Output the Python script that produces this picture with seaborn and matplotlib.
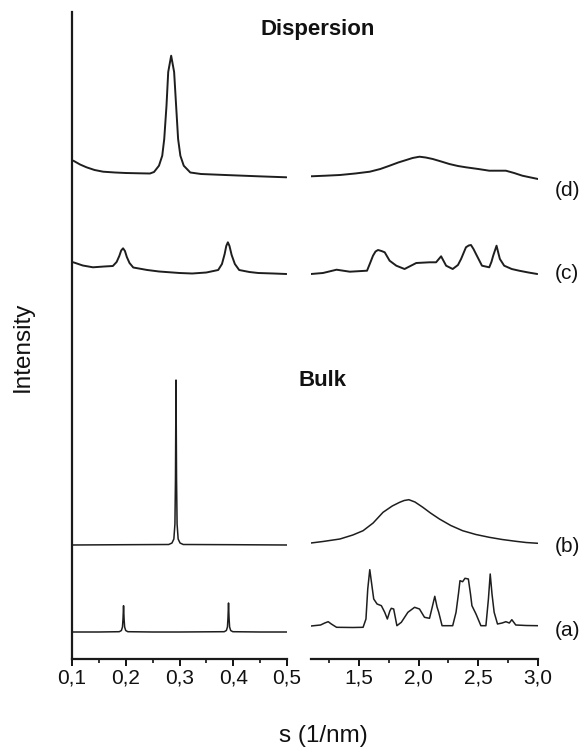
import matplotlib
matplotlib.use("Agg")
import matplotlib.pyplot as plt
import seaborn as sns
import pandas as pd
from matplotlib.ticker import FixedLocator, FixedFormatter

# ---------------- data (arbitrary intensity units) ----------------
# left panel, s = 0.1 .. 0.5
a_left_s = [0.100, 0.150, 0.1879, 0.1919, 0.1939, 0.1949, 0.1959, 0.1969, 0.1979, 0.1999, 0.2039,
            0.250, 0.300, 0.3832, 0.3872, 0.3892, 0.3902, 0.3912, 0.3922, 0.3932, 0.3952, 0.3992,
            0.450, 0.500]
a_left_i = [27, 27, 27.3, 28.5, 32, 40, 53.3, 40, 32, 28.5, 27.3,
            27, 27, 27.3, 28.5, 32, 41, 56, 41, 32, 28.5, 27.3,
            27, 27]

b_left_s = [0.100, 0.200, 0.280, 0.286, 0.2895, 0.2915, 0.2925, 0.2935, 0.2945, 0.2955,
            0.2975, 0.301, 0.307, 0.400, 0.500]
b_left_i = [114, 114.3, 114.5, 116, 120, 135, 180, 279, 180, 135,
            120, 116, 114.5, 114.3, 114]

c_left_s = [0.1025, 0.120, 0.139, 0.160, 0.176, 0.183, 0.188, 0.1915, 0.195, 0.1985, 0.202,
            0.207, 0.214, 0.240, 0.262, 0.300, 0.3236, 0.350, 0.372, 0.379, 0.384, 0.387,
            0.390, 0.393, 0.397, 0.403, 0.411, 0.430, 0.4465, 0.475, 0.499]
c_left_i = [396.7, 393.5, 391.7, 392.5, 393, 397, 403, 408.5, 410.7, 408, 402,
            396, 391.5, 389, 387.5, 386, 385.5, 386.5, 389, 395, 405, 413,
            416.7, 413, 404, 395, 389, 387, 386, 385.5, 385]

d_left_s = [0.1025, 0.115, 0.127, 0.142, 0.158, 0.180, 0.200, 0.225, 0.245, 0.2526, 0.2618,
            0.2679, 0.2716, 0.2758, 0.2790, 0.2845, 0.2900, 0.2937, 0.2974, 0.3016, 0.3079,
            0.3201, 0.340, 0.385, 0.4465, 0.499]
d_left_i = [498.3, 494.5, 491.7, 489, 487.3, 486.5, 486, 485.7, 485.5, 487, 493.3,
            503.3, 520, 553.3, 587, 603.3, 587, 553.3, 520, 503.3, 493.3,
            486.5, 485, 484, 482.7, 481.7]

# right panel, s = 1.1 .. 3.0
a_right_s = [1.100, 1.180, 1.215, 1.244, 1.270, 1.314, 1.450, 1.536, 1.560, 1.575, 1.592,
             1.608, 1.625, 1.653, 1.689, 1.717, 1.739, 1.760, 1.772, 1.792, 1.819, 1.856,
             1.911, 1.967, 2.008, 2.050, 2.092, 2.115, 2.136, 2.155, 2.169, 2.197, 2.286,
             2.314, 2.335, 2.347, 2.369, 2.389, 2.417, 2.435, 2.447, 2.481, 2.522, 2.564,
             2.585, 2.600, 2.615, 2.633, 2.661, 2.700, 2.731, 2.760, 2.781, 2.814, 2.900,
             3.000]
a_right_i = [33, 34, 36, 37.3, 35, 31.7, 31.5, 31.7, 40, 70, 89.3,
             75, 60, 55, 53.3, 46.7, 40, 48, 50.7, 50, 33.3, 36.7,
             46.7, 51.7, 50, 41.7, 40.7, 52, 62.7, 52, 46.7, 33.3, 33.3,
             46.7, 66, 78.3, 77.3, 80.7, 80, 65, 53.3, 45, 33.3, 33.3,
             60, 85, 65, 46.7, 35, 36, 37.3, 36, 39.3, 34, 33.5,
             33.3]

b_right_s = [1.100, 1.200, 1.342, 1.450, 1.536, 1.620, 1.703, 1.780, 1.842, 1.880, 1.919,
             1.970, 2.036, 2.100, 2.175, 2.270, 2.369, 2.480, 2.592, 2.700, 2.814, 2.900, 3.000]
b_right_i = [116, 117.5, 120, 124, 128.3, 136, 146.7, 153, 156.7, 158.5, 159.3,
             157, 151.7, 146, 140, 133.5, 128.3, 124.5, 121.7, 119.5, 117.7, 116.5, 115.7]

c_right_s = [1.100, 1.200, 1.314, 1.425, 1.569, 1.595, 1.619, 1.640, 1.661, 1.690, 1.717,
             1.758, 1.814, 1.883, 1.981, 2.092, 2.147, 2.170, 2.189, 2.210, 2.231, 2.286,
             2.330, 2.356, 2.397, 2.420, 2.439, 2.460, 2.481, 2.531, 2.592, 2.610, 2.625,
             2.653, 2.668, 2.681, 2.717, 2.780, 2.842, 2.920, 2.994]
c_right_i = [385, 386, 389.3, 387.3, 388.3, 396, 403.3, 407.5, 409, 408, 406.7,
             398.3, 393.3, 390, 396, 396.7, 396.7, 400, 402.7, 398, 393.3, 390,
             394, 400, 411.7, 413.5, 414, 410, 405, 393.3, 391.7, 397, 403.3,
             413.3, 406, 400, 393.3, 390, 388.3, 386.5, 385]

d_right_s = [1.100, 1.220, 1.342, 1.470, 1.592, 1.680, 1.758, 1.830, 1.897, 1.950, 2.008,
             2.060, 2.119, 2.190, 2.258, 2.330, 2.397, 2.500, 2.592, 2.731, 2.800, 2.869, 2.940, 3.000]
d_right_i = [482.7, 483.3, 484, 485.5, 487.3, 490, 493.3, 496.5, 499, 501, 502.3,
             501.5, 500, 497.5, 495, 493, 491.7, 490, 488.3, 488.3, 486, 483.3, 481.5, 480]

trace_names = ["(a)", "(b)", "(c)", "(d)"]
left_ticks = [0.1, 0.2, 0.3, 0.4, 0.5]
left_tick_labels = ["0,1", "0,2", "0,3", "0,4", "0,5"]
left_minor = [0.15, 0.25, 0.35, 0.45]
right_ticks = [1.5, 2.0, 2.5, 3.0]
right_tick_labels = ["1,5", "2,0", "2,5", "3,0"]
right_minor = [1.25, 1.75, 2.25, 2.75]
group_titles = ["Dispersion", "Bulk"]
x_label = "s (1/nm)"
y_label = "Intensity"

# ---------------- style ----------------
sns.set_style("ticks")
plt.rcParams["font.family"] = ["Liberation Sans", "DejaVu Sans"]
plt.rcParams["axes.linewidth"] = 1.6
plt.rcParams["axes.edgecolor"] = "#1a1a1a"
plt.rcParams["xtick.major.width"] = 1.4
plt.rcParams["xtick.minor.width"] = 1.2

line_color = "#1e1e1e"
text_color = "#111111"
fig = plt.figure(figsize=(5.85, 7.49), dpi=100)
axL = fig.add_axes([72 / 585, 90 / 749, 215 / 585, 647 / 749])
axR = fig.add_axes([311 / 585, 90 / 749, 227 / 585, 647 / 749])

left_sets = [(a_left_s, a_left_i), (b_left_s, b_left_i), (c_left_s, c_left_i), (d_left_s, d_left_i)]
right_sets = [(a_right_s, a_right_i), (b_right_s, b_right_i), (c_right_s, c_right_i), (d_right_s, d_right_i)]
widths = [1.1, 1.1, 1.4, 1.4]

for ax, sets in ((axL, left_sets), (axR, right_sets)):
    for name, (s, i), lw in zip(trace_names, sets, widths):
        df = pd.DataFrame({"s": s, "I": i})
        sns.lineplot(data=df, x="s", y="I", ax=ax, color=line_color, linewidth=lw,
                     estimator=None, sort=False)
    ax.set_ylim(0, 647)
    ax.set_xlabel("")
    ax.set_ylabel("")
    ax.set_yticks([])
    ax.spines["top"].set_visible(False)
    ax.spines["right"].set_visible(False)
    ax.tick_params(axis="x", which="major", length=5, direction="out", labelsize=15,
                   colors=text_color, pad=2)
    ax.tick_params(axis="x", which="minor", length=3, direction="out", colors=text_color)

axL.set_xlim(0.1, 0.5)
axL.xaxis.set_major_locator(FixedLocator(left_ticks))
axL.xaxis.set_major_formatter(FixedFormatter(left_tick_labels))
axL.xaxis.set_minor_locator(FixedLocator(left_minor))

axR.set_xlim(1.1, 3.0)
axR.spines["left"].set_visible(False)
axR.xaxis.set_major_locator(FixedLocator(right_ticks))
axR.xaxis.set_major_formatter(FixedFormatter(right_tick_labels))
axR.xaxis.set_minor_locator(FixedLocator(right_minor))

# trace labels at right
label_y_px = [630, 547, 274, 191]
for name, ypx in zip(trace_names, label_y_px):
    fig.text(555 / 585, 1 - ypx / 749, name, fontsize=15, ha="left", va="center", color=text_color)

fig.text(318 / 585, 1 - 30 / 749, group_titles[0], fontsize=16, fontweight="bold",
         ha="center", va="center", color=text_color)
fig.text(322 / 585, 1 - 381 / 749, group_titles[1], fontsize=16, fontweight="bold",
         ha="center", va="center", color=text_color)

fig.text(323 / 585, 1 - 736 / 749, x_label, fontsize=17.5, ha="center", va="center", color=text_color)
fig.text(23 / 585, 1 - 347 / 749, y_label, fontsize=17.5, rotation=90, ha="center", va="center",
         color=text_color)

fig.savefig("out.png", dpi=100)
